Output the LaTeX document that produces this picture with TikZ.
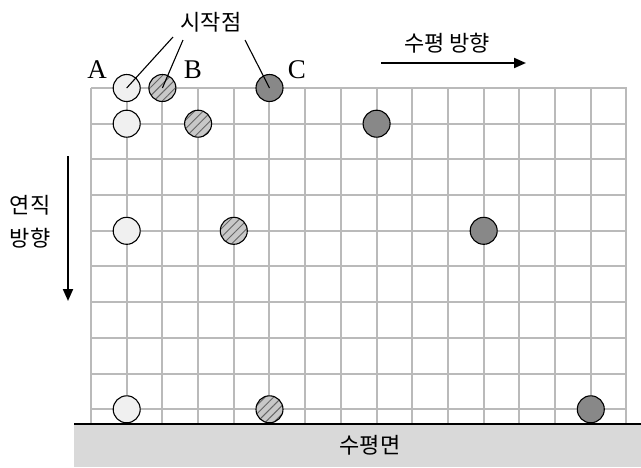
\documentclass[tikz,border=0pt]{standalone}
\usepackage{fontspec}
\setmainfont{Liberation Serif}
\newfontfamily\kr{Noto Sans CJK KR}
\usetikzlibrary{patterns.meta,arrows.meta}
\definecolor{ballA}{HTML}{F0F0F0}
\definecolor{ballB}{HTML}{C8C8C8}
\definecolor{ballC}{HTML}{888888}
\definecolor{gridc}{HTML}{BABABA}
\definecolor{groundc}{HTML}{D9D9D9}
\tikzset{
  ball/.style={circle, draw=black, line width=1.1pt, minimum size=27pt, inner sep=0pt},
  balla/.style={ball, fill=ballA},
  ballc/.style={ball, fill=ballC},
  ballb/.style={ball, preaction={fill=ballB}, pattern={Lines[angle=45,distance=6pt,line width=0.9pt]}, pattern color=black!60},
  krtext/.style={font=\kr\fontsize{22}{26}\selectfont, inner sep=0pt},
  lettertext/.style={font=\fontsize{27}{30}\selectfont, inner sep=0pt},
  dirarrow/.style={line width=2pt, -{Triangle[length=12pt,width=10pt]}},
  pointer/.style={line width=1.1pt},
  gridline/.style={gridc, line width=1.5pt}
}
\begin{document}
\begin{tikzpicture}[x=1pt,y=-1pt]
\useasboundingbox (0,0) rectangle (641,467);
% ground
\fill[groundc] (74,424) rectangle (641,467);
% grid
\foreach \c in {0,...,15} \draw[gridline] ({round(91+35.7*\c)},88) -- ({round(91+35.7*\c)},424);
\foreach \r in {0,...,9} \draw[gridline] (91,{round(88+35.7*\r)}) -- (627,{round(88+35.7*\r)});
\draw[line width=2pt] (74,424) -- (641,424);
% balls
\foreach \r/\k in {0/0,1/1,4/2,9/3} {
  \node[balla] (a\k) at ({91+35.7*1},{88+35.7*\r}) {};
}
\foreach \cc/\r/\k in {2/0/0,3/1/1,4/4/2,5/9/3} {
  \node[ballb] (b\k) at ({91+35.7*\cc},{88+35.7*\r}) {};
}
\foreach \cc/\r/\k in {5/0/0,8/1/1,11/4/2,14/9/3} {
  \node[ballc] (c\k) at ({91+35.7*\cc},{88+35.7*\r}) {};
}
% labels
\node[lettertext] (la) at (97,70) {A};
\node[lettertext] (lb) at (193,70) {B};
\node[lettertext] (lc) at (297,70) {C};
\node[krtext] (start) at (211,22) {시작점};
\coordinate (p1) at (173,37);
\coordinate (p2) at (183,40);
\coordinate (p3) at (245,40);
\draw[pointer] (p1) -- (a0.center);
\draw[pointer] (p2) -- (b0.center);
\draw[pointer] (p3) -- (c0.center);
% directions
\node[krtext] (hdir) at (447,43) {수평 방향};
\coordinate (h1) at (381,63);
\coordinate (h2) at (526,63);
\draw[dirarrow] (h1) -- (h2);
\node[krtext] (vdir1) at (30,205) {연직};
\node[krtext] (vdir2) at (30,238) {방향};
\coordinate (v1) at (68,156);
\coordinate (v2) at (68,301);
\draw[dirarrow] (v1) -- (v2);
\node[krtext] (ground) at (370,445) {수평면};
\end{tikzpicture}
\end{document}
